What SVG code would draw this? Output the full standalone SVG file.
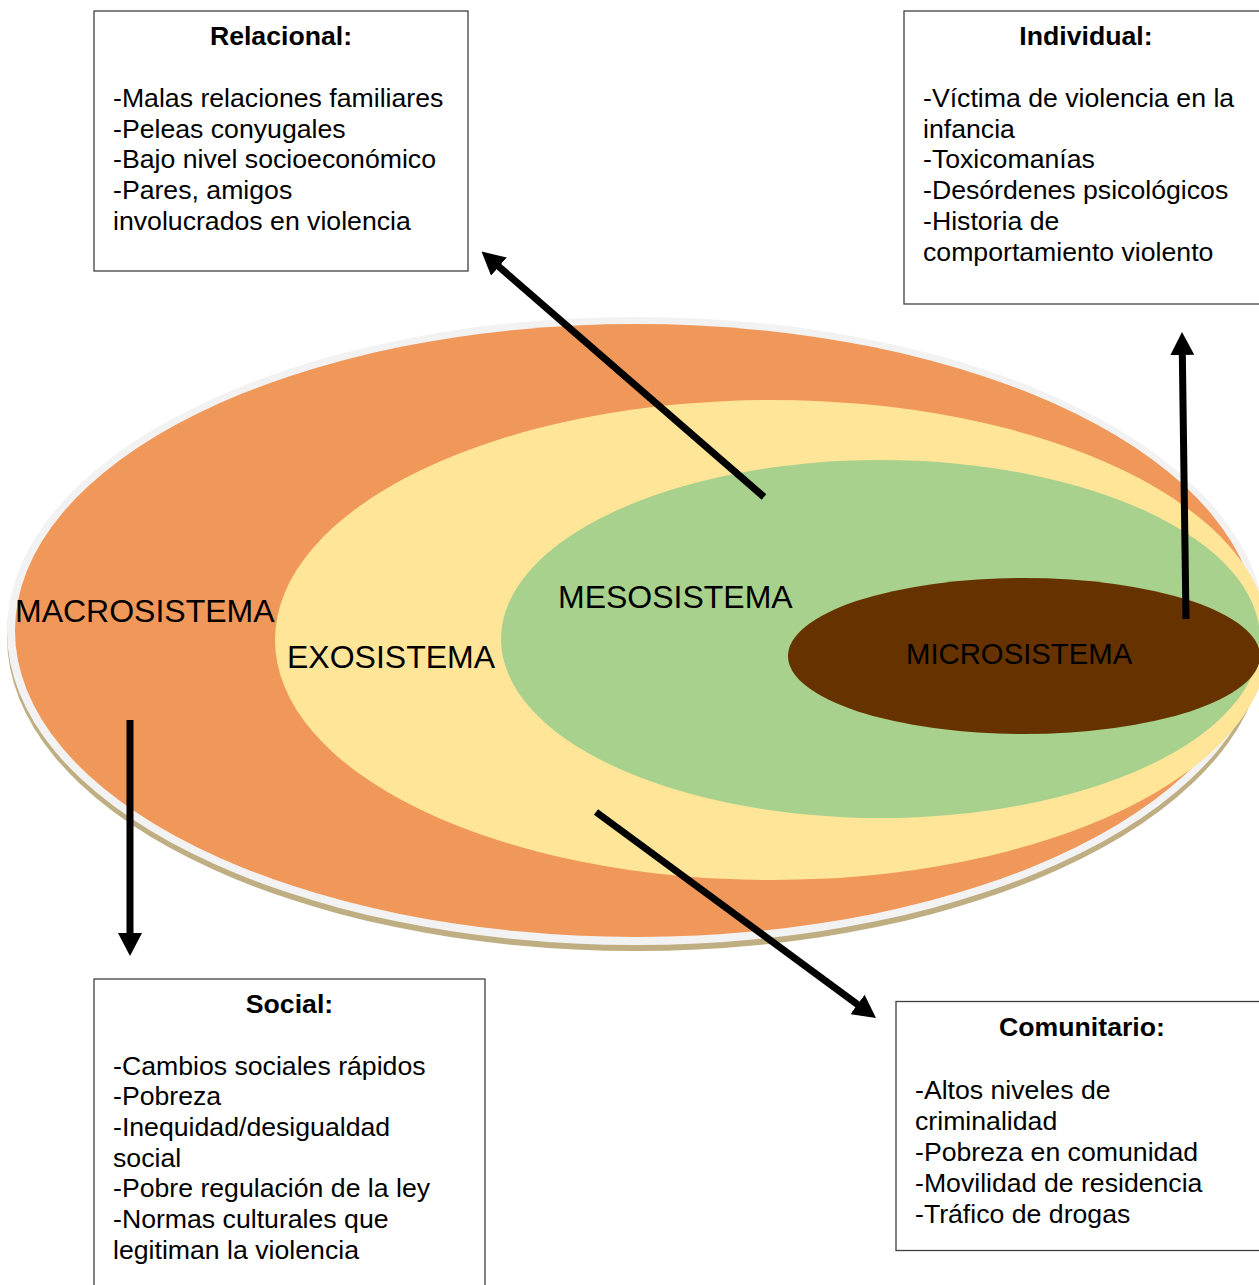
<svg xmlns="http://www.w3.org/2000/svg" width="1259" height="1285" viewBox="0 0 1259 1285">
<defs>
<style>
.box{fill:#ffffff;stroke:#404040;stroke-width:1.3}
.title{font-family:"Liberation Sans",Arial,sans-serif;font-size:26.67px;font-weight:bold;fill:#000;text-anchor:middle}
.body{font-family:"Liberation Sans",Arial,sans-serif;font-size:26.67px;fill:#000}
.lbl{font-family:"Liberation Sans",Arial,sans-serif;font-size:32px;fill:#000}
.arrow{stroke:#000;stroke-width:7;fill:none;stroke-linecap:butt;marker-end:url(#head)}
</style>
<marker id="head" viewBox="0 0 23 24" refX="2" refY="12" markerWidth="23" markerHeight="24" markerUnits="userSpaceOnUse" orient="auto">
<path d="M0,0 L23,12 L0,24 z" fill="#000"/>
</marker>
</defs>
<g id="ellipses">
<ellipse id="shadow" cx="636" cy="637" rx="629" ry="314" fill="#BFAE82"/>
<ellipse id="rim" cx="636" cy="631" rx="629" ry="314" fill="#F2F2F2"/>
<ellipse id="macro" cx="636.5" cy="630.5" rx="621.5" ry="306.5" fill="#F0975A"/>
<ellipse id="exo" cx="772" cy="640" rx="497" ry="240" fill="#FFE598"/>
<ellipse id="meso" cx="880.5" cy="639" rx="379.5" ry="179" fill="#A8D18D"/>
<ellipse id="micro" cx="1024" cy="656" rx="236" ry="78" fill="#663300"/>
<text class="lbl" x="15" y="621.5">MACROSISTEMA</text>
<text class="lbl" x="287" y="668">EXOSISTEMA</text>
<text class="lbl" x="558" y="607.5">MESOSISTEMA</text>
<text class="lbl" x="906" y="664" style="font-size:29.3px">MICROSISTEMA</text>
</g>
<g id="connectors">
<line class="arrow" x1="764" y1="497" x2="497.4" y2="265.3"/>
<line class="arrow" x1="1186" y1="619" x2="1182.3" y2="353"/>
<line class="arrow" x1="130" y1="720" x2="130" y2="935"/>
<line class="arrow" x1="596" y1="812" x2="859.1" y2="1005.6"/>
</g>
<g id="relacional">
<rect class="box" x="94" y="11" width="374" height="260"/>
<text class="title" x="281" y="44.5">Relacional:</text>
<text class="body" x="113" y="107">-Malas relaciones familiares</text>
<text class="body" x="113" y="137.7">-Peleas conyugales</text>
<text class="body" x="113" y="168.4">-Bajo nivel socioeconómico</text>
<text class="body" x="113" y="199.1">-Pares, amigos</text>
<text class="body" x="113" y="229.8">involucrados en violencia</text>
</g>
<g id="individual">
<rect class="box" x="904" y="11" width="364" height="293"/>
<text class="title" x="1086" y="44.5">Individual:</text>
<text class="body" x="923" y="107">-Víctima de violencia en la</text>
<text class="body" x="923" y="137.7">infancia</text>
<text class="body" x="923" y="168.4">-Toxicomanías</text>
<text class="body" x="923" y="199.1">-Desórdenes psicológicos</text>
<text class="body" x="923" y="229.8">-Historia de</text>
<text class="body" x="923" y="260.5">comportamiento violento</text>
</g>
<g id="social">
<rect class="box" x="94" y="979" width="391" height="320"/>
<text class="title" x="289.5" y="1013">Social:</text>
<text class="body" x="113" y="1074.5">-Cambios sociales rápidos</text>
<text class="body" x="113" y="1105.2">-Pobreza</text>
<text class="body" x="113" y="1135.9">-Inequidad/desigualdad</text>
<text class="body" x="113" y="1166.6">social</text>
<text class="body" x="113" y="1197.3">-Pobre regulación de la ley</text>
<text class="body" x="113" y="1228">-Normas culturales que</text>
<text class="body" x="113" y="1258.7">legitiman la violencia</text>
</g>
<g id="comunitario">
<rect class="box" x="896" y="1001.5" width="372" height="249"/>
<text class="title" x="1082" y="1036">Comunitario:</text>
<text class="body" x="915" y="1098.5">-Altos niveles de</text>
<text class="body" x="915" y="1129.5">criminalidad</text>
<text class="body" x="915" y="1160.5">-Pobreza en comunidad</text>
<text class="body" x="915" y="1191.5">-Movilidad de residencia</text>
<text class="body" x="915" y="1222.5">-Tráfico de drogas</text>
</g>
</svg>
